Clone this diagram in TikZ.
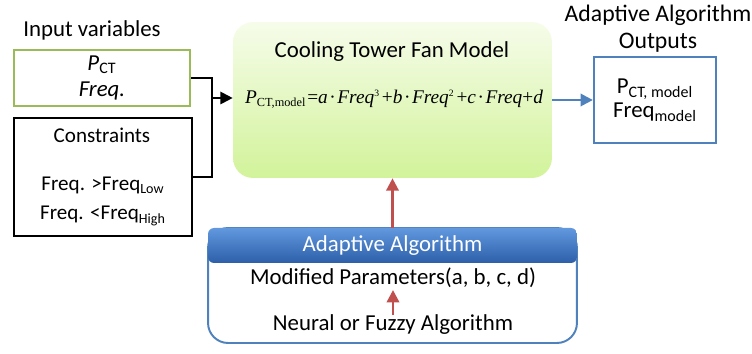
\documentclass[tikz,border=0pt]{standalone}
\usepackage{fontspec}
\setmainfont{Carlito}
\newfontfamily\eqfont{Liberation Serif}
\usetikzlibrary{arrows.meta, positioning, calc}
\definecolor{ModelTop}{HTML}{F6FCEA}
\definecolor{ModelBottom}{HTML}{D2F39A}
\definecolor{InputGreen}{HTML}{9BBB59}
\definecolor{OutBlue}{HTML}{4F81BD}
\definecolor{HeadTop}{HTML}{6198DE}
\definecolor{HeadBottom}{HTML}{2C5FA8}
\definecolor{ParamRed}{HTML}{C0504D}
\newcommand{\eqdot}{\hspace{0.08em}{\upshape ·}\hspace{0.08em}}
\tikzset{
    % boxes
    inputbox/.style={
        rectangle,
        draw=InputGreen,
        line width=1.3pt,
        fill=white,
        align=center,
        font=\fontsize{13}{13}\selectfont
    },
    constraintbox/.style={
        rectangle,
        draw=black,
        line width=1.3pt,
        fill=white
    },
    modelbox/.style={
        rectangle,
        rounded corners=0.4cm,
        draw=none,
        top color=ModelTop,
        bottom color=ModelBottom
    },
    outbox/.style={
        rectangle,
        draw=OutBlue,
        line width=1.3pt,
        fill=white,
        align=center,
        font=\fontsize{13}{13.5}\selectfont
    },
    adaptbox/.style={
        rectangle,
        rounded corners=0.4cm,
        draw=OutBlue,
        line width=1.1pt,
        fill=white
    },
    headbar/.style={
        rectangle,
        rounded corners=0.12cm,
        draw=none,
        top color=HeadTop,
        bottom color=HeadBottom,
        text=white,
        font=\fontsize{13}{13}\selectfont
    },
    plaintext/.style={
        font=\fontsize{13}{13}\selectfont,
        align=center
    },
    smalltext/.style={
        font=\fontsize{12}{12}\selectfont
    },
    % arrows
    blackarrow/.style={->, >={Triangle[length=7pt,width=7pt]}, line width=1.2pt, black},
    bluearrow/.style={->, >={Triangle[length=7pt,width=7pt]}, line width=1.4pt, OutBlue},
    redarrow/.style={->, >={Triangle[length=7pt,width=7pt]}, line width=1.4pt, ParamRed}
}
\begin{document}
\begin{tikzpicture}[x=0.02cm, y=-0.02cm]
    \useasboundingbox (0,0) rectangle (752,354);

    % inputs
    \node[plaintext] (intitle) at (92,30) {Input variables};
    \node[inputbox, minimum width=3.52cm, minimum height=1.08cm] (inbox) at (102,78)
        {{\itshape P}\textsubscript{CT}\\[2pt]{\itshape Freq.}};
    \node[constraintbox, minimum width=3.56cm, minimum height=2.36cm] (conbox) at (103,177) {};
    \node[smalltext] (contitle) at (102,135) {Constraints};
    \node[smalltext] (conlow) at (103,185) {Freq. {>}Freq\textsubscript{Low}};
    \node[smalltext] (conhigh) at (103,216) {Freq. {<}Freq\textsubscript{High}};

    % model
    \node[modelbox, minimum width=6.38cm, minimum height=3.12cm] (model) at (392.5,100) {};
    \node[plaintext] (modeltitle) at (392,52) {Cooling Tower Fan Model};
    \node[font=\eqfont\fontsize{11}{12}\selectfont] (formula) at (394,99)
        {\itshape P\textsubscript{\upshape\fontsize{7}{8}\selectfont CT,model}\hspace{0.05em}{\upshape =}a\eqdot Freq\textsuperscript{\upshape\fontsize{5.5}{6}\selectfont 3}\hspace{0.1em}{\upshape +}b\eqdot Freq\textsuperscript{\upshape\fontsize{5.5}{6}\selectfont 2}\hspace{0.1em}{\upshape +}c\eqdot Freq{\upshape +}d};

    % outputs
    \node[plaintext, font=\fontsize{13.5}{15.5}\selectfont] (outtitle) at (658,29) {Adaptive Algorithm\\Outputs};
    \node[outbox, minimum width=2.44cm, minimum height=1.72cm] (outbox) at (655,100)
        {P\textsubscript{CT, model}\\Freq\textsubscript{model}};

    % adaptive algorithm
    \node[adaptbox, minimum width=7.38cm, minimum height=2.3cm] (adapt) at (392.5,285.5) {};
    \node[headbar, minimum width=7.38cm, minimum height=0.7cm] (head) at (392.5,245.5) {Adaptive Algorithm};
    \node[plaintext, inner sep=1pt] (params) at (393,278) {Modified Parameters(a, b, c, d)};
    \node[plaintext, inner sep=0pt] (neural) at (393,325) {Neural or Fuzzy Algorithm};

    % connectors
    \coordinate (join) at (212,98);
    \draw[line width=1.2pt] (inbox.east) -| (join);
    \draw[line width=1.2pt] (conbox.east) -| (join);
    \draw[blackarrow] (join) -- (join -| model.west);
    \draw[bluearrow] (model.east |- outbox.west) -- (outbox.west);
    \draw[redarrow] (head.north) -- (model.south);
    \draw[redarrow] (neural.north) -- (params.south);
\end{tikzpicture}
\end{document}
